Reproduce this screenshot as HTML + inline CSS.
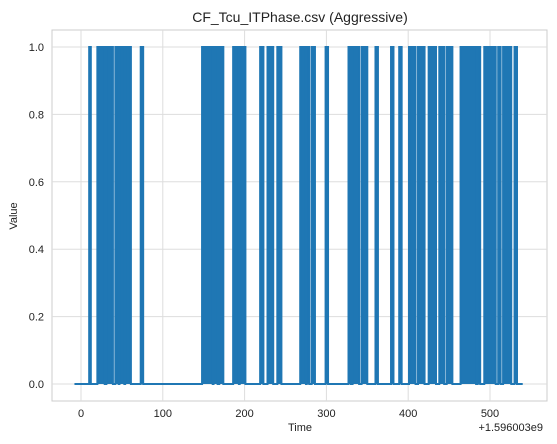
<!DOCTYPE html>
<html><head><meta charset="utf-8"><style>
body{margin:0;background:#fff;}
svg{display:block;font-family:"Liberation Sans","DejaVu Sans",sans-serif;}
</style></head><body>
<svg id="chart" width="557" height="444">
<text x="300" y="22" font-size="14" text-anchor="middle" fill="#222">CF_Tcu_ITPhase.csv (Aggressive)</text>
<rect x="52" y="30" width="495" height="371" fill="none" stroke="#ccc"/>
<g id="grid"></g><g id="marks"></g><g id="ticks"></g>
<text x="300" y="431" font-size="11" text-anchor="middle" fill="#222">Time</text>
<text x="543" y="431" font-size="11" text-anchor="end" fill="#222">+1.596003e9</text>
<text x="17" y="216" font-size="11" text-anchor="middle" fill="#222" transform="rotate(-90 17 216)">Value</text>
</svg>
<script>
const xTicks=[0,100,200,300,400,500];
const yTicks=[0.0,0.2,0.4,0.6,0.8,1.0];
const onStart=[10,20,31,42,47,54,73,148,162,169,186,194,219,228,240,268,276,282,299,327,332,343,360,379,389,401,412,425,438,447,464,485,493,510,516,530];
const onEnd=[12,29,39,46,53,61,76,161,167,174,193,201,223,235,245,275,279,286,302,330,340,350,363,382,392,409,420,434,444,454,483,488,507,513,526,533];
const tStart=-8, tEnd=540;
const xs=v=>81+v*0.818, ys=v=>384-v*337;
const NS="http://www.w3.org/2000/svg";
function mk(t,a,p){const e=document.createElementNS(NS,t);for(const k in a)e.setAttribute(k,a[k]);p.appendChild(e);return e;}
const grid=document.getElementById('grid'),ticks=document.getElementById('ticks'),marks=document.getElementById('marks');
xTicks.forEach(v=>{
 const l=mk('line',{x1:xs(v),x2:xs(v),y1:30,y2:401,stroke:'#ddd'},grid);
 
 
 const t=mk('text',{x:xs(v),y:417,'font-size':11,'text-anchor':'middle',fill:'#222'},ticks);
 t.textContent=v;
 
 
});
yTicks.forEach(v=>{
 const l=mk('line',{x1:52,x2:547,y1:ys(v),y2:ys(v),stroke:'#ddd'},grid);
 
 
 const t=mk('text',{x:44,y:ys(v)+4,'font-size':11,'text-anchor':'end',fill:'#222'},ticks);
 t.textContent=v.toFixed(1);
 
 
});
let d=`M${xs(tStart)},${ys(0)}`;
onStart.forEach((s,i)=>{
 d+=` L${xs(s)},${ys(0)} L${xs(s)},${ys(1)} L${xs(onEnd[i])},${ys(1)} L${xs(onEnd[i])},${ys(0)}`;
 const r=mk('rect',{x:xs(s),y:ys(1),width:xs(onEnd[i])-xs(s),height:ys(0)-ys(1),fill:'#1f77b4'},marks);
 
 
});
d+=` L${xs(tEnd)},${ys(0)}`;
const p=mk('path',{d:d,fill:'none',stroke:'#1f77b4','stroke-width':2},marks);


</script>
</body></html>
